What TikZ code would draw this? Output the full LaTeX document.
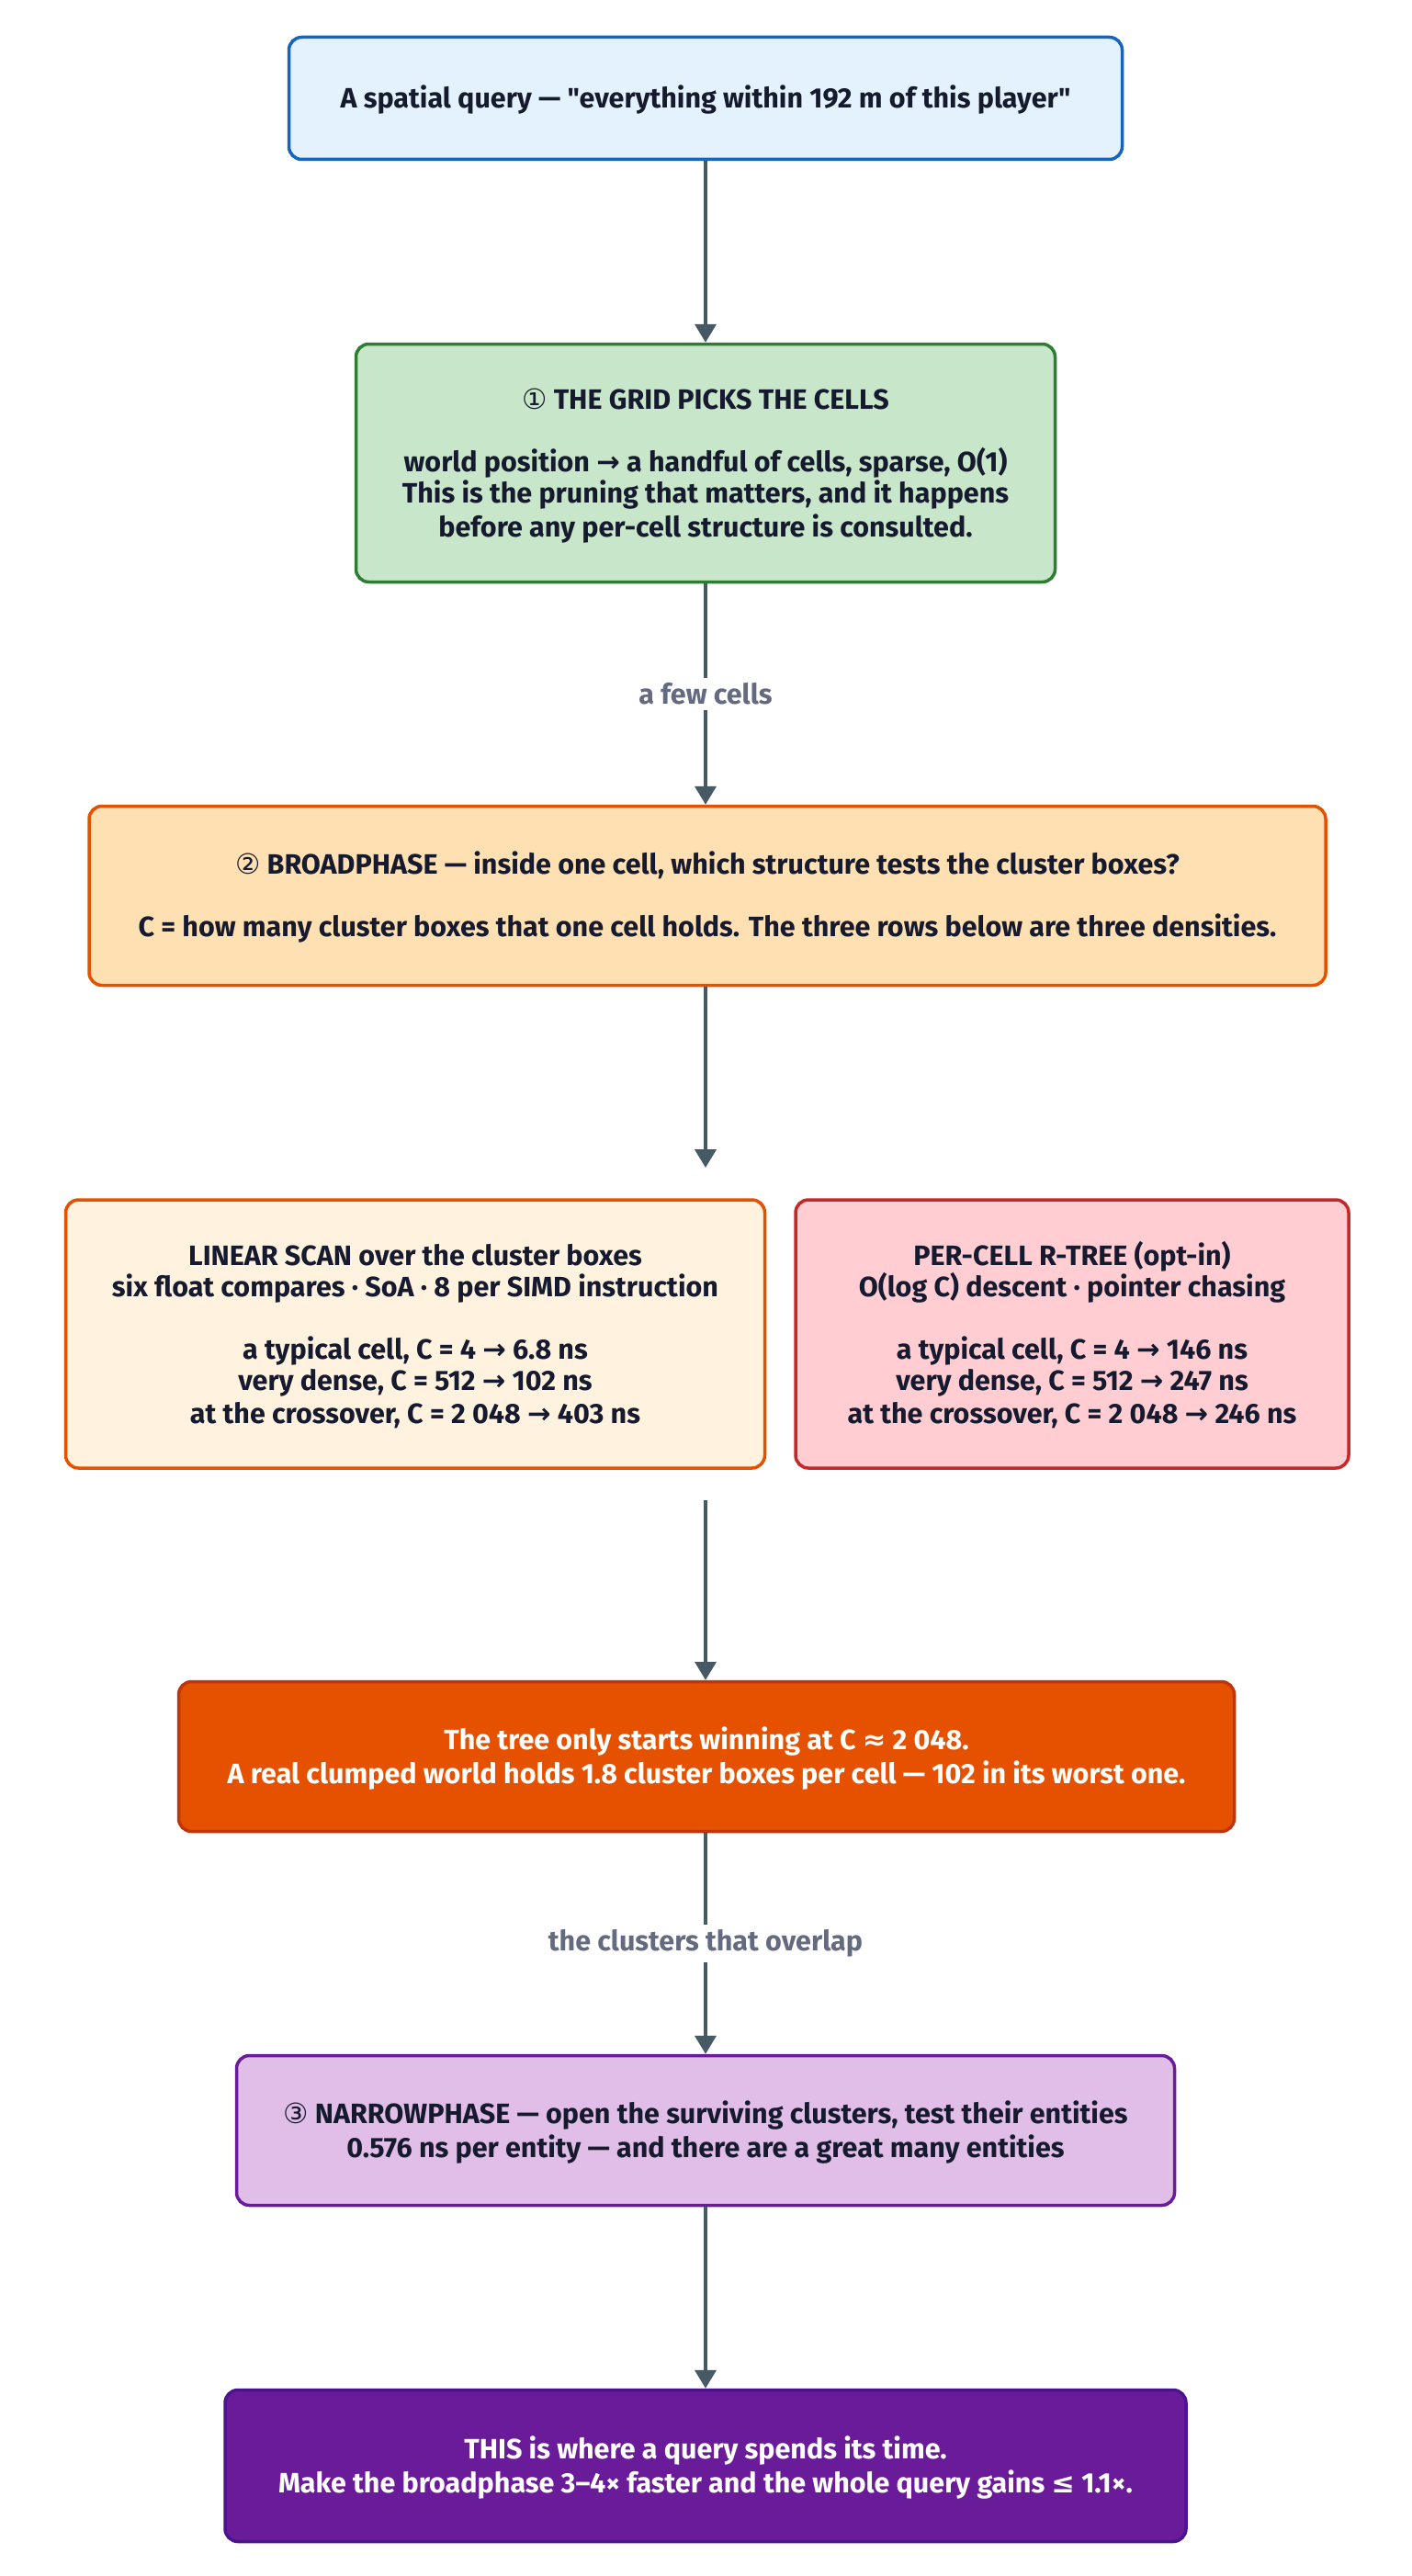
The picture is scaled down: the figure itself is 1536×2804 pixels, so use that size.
\documentclass[tikz,border=0pt]{standalone}
\usepackage{fontspec}
\setmainfont{Fira Sans}[Ligatures=TeXOff]
\newfontfamily\sym{DejaVu Sans}
\usetikzlibrary{arrows.meta,fit,positioning}
\definecolor{arrowc}{HTML}{455A64}
\definecolor{labelc}{HTML}{646B80}
\definecolor{txt}{HTML}{161A2E}
\definecolor{f1}{HTML}{E3F2FD}\definecolor{d1}{HTML}{1565C0}
\definecolor{f2}{HTML}{C8E6C9}\definecolor{d2}{HTML}{2E7D32}
\definecolor{f3}{HTML}{FFE0B2}\definecolor{d3}{HTML}{E65100}
\definecolor{f4}{HTML}{FFF3E0}\definecolor{d4}{HTML}{E65100}
\definecolor{f5}{HTML}{FFCDD2}\definecolor{d5}{HTML}{C62828}
\definecolor{f6}{HTML}{E65100}\definecolor{d6}{HTML}{BF360C}
\definecolor{f7}{HTML}{E1BEE7}\definecolor{d7}{HTML}{6A1B9A}
\definecolor{f8}{HTML}{6A1B9A}\definecolor{d8}{HTML}{4A148C}
\newcommand{\ar}{{\sym →}}
\newcommand{\circnum}[1]{{\sym\mdseries #1}}
\newcommand{\lnstrut}{\rule[-5.5pt]{0pt}{34pt}}
\tikzset{
  box/.style={draw, line width=3.5pt, rounded corners=14pt, align=center,
    text=txt, font=\bfseries\fontsize{30.5}{34}\selectfont, inner sep=0pt},
  arr/.style={draw=arrowc, line width=4pt, -{Triangle[width=23pt,length=20pt]}},
  lbl/.style={fill=white, text=labelc, font=\bfseries\fontsize{30.5}{34}\selectfont, inner xsep=4pt, inner ysep=6pt},
}
\begin{document}
\begin{tikzpicture}[x=1pt,y=-1pt]
\useasboundingbox[fill=white] (0,0) rectangle (1536,2804);
\node[box, fill=f1, draw=d1, minimum width=907pt, minimum height=133pt] (q) at (768,107)
  {\lnstrut A spatial query — "everything within 192 m of this player"\lnstrut};
\node[box, fill=f2, draw=d2, minimum width=761pt, minimum height=259pt] (grid) at (768,504)
  {\lnstrut\circnum{①} THE GRID PICKS THE CELLS\\[34pt]
   world position \ar{} a handful of cells, sparse, O(1)\\
   This is the pruning that matters, and it happens\\
   before any per-cell structure is consulted.\lnstrut};
\node[box, fill=f3, draw=d3, minimum width=1346pt, minimum height=195pt] (broad) at (770,975)
  {\lnstrut\circnum{②} BROADPHASE — inside one cell, which structure tests the cluster boxes?\\[34pt]
   C = how many cluster boxes that one cell holds. The three rows below are three densities.\lnstrut};
\node[box, fill=f4, draw=d4, minimum width=761pt, minimum height=292pt] (lin) at (452,1452)
  {\lnstrut LINEAR SCAN over the cluster boxes\\
   six float compares · SoA · 8 per SIMD instruction\\[34pt]
   a typical cell, C = 4 \ar{} 6.8 ns\\
   very dense, C = 512 \ar{} 102 ns\\
   at the crossover, C = 2 048 \ar{} 403 ns\lnstrut};
\node[box, fill=f5, draw=d5, minimum width=602pt, minimum height=292pt] (tree) at (1167,1452)
  {\lnstrut PER-CELL R-TREE (opt-in)\\
   O(log C) descent · pointer chasing\\[34pt]
   a typical cell, C = 4 \ar{} 146 ns\\
   very dense, C = 512 \ar{} 247 ns\\
   at the crossover, C = 2 048 \ar{} 246 ns\lnstrut};
\node[fit=(lin)(tree), inner xsep=0pt, inner ysep=33pt] (grp) {};
\node[box, fill=f6, draw=d6, text=white, minimum width=1149pt, minimum height=163pt] (win) at (769,1912)
  {\lnstrut The tree only starts winning at C {\sym ≈} 2 048.\\
   A real clumped world holds 1.8 cluster boxes per cell — 102 in its worst one.\lnstrut};
\node[box, fill=f7, draw=d7, minimum width=1021pt, minimum height=163pt] (narrow) at (768,2319)
  {\lnstrut\circnum{③} NARROWPHASE — open the surviving clusters, test their entities\\
   0.576 ns per entity — and there are a great many entities\lnstrut};
\node[box, fill=f8, draw=d8, text=white, minimum width=1046pt, minimum height=165pt] (time) at (768,2684)
  {\lnstrut THIS is where a query spends its time.\\
   Make the broadphase 3–4× faster and the whole query gains {\sym ≤} 1.1×.\lnstrut};
\draw[arr] (q.south) -- (q.south |- grid.north);
\draw[arr] (grid.south) -- node[lbl] (l1) {a few cells} (grid.south |- broad.north);
\draw[arr] (grid.south |- broad.south) -- (grid.south |- grp.north);
\draw[arr] (grid.south |- grp.south) -- (grid.south |- win.north);
\draw[arr] (grid.south |- win.south) -- node[lbl] (l2) {the clusters that overlap} (grid.south |- narrow.north);
\draw[arr] (narrow.south) -- (time.north);
\end{tikzpicture}
\end{document}
